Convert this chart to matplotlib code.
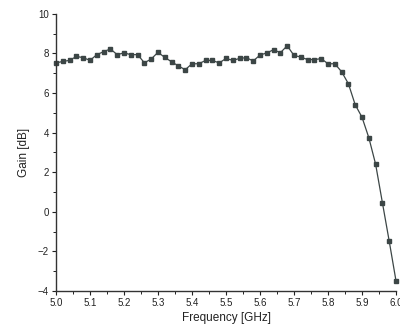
import numpy as np
import matplotlib
matplotlib.use("Agg")
import matplotlib.pyplot as plt
from matplotlib.ticker import MultipleLocator

plt.rcParams['font.family'] = ['Liberation Sans', 'DejaVu Sans']

# frequency points, 0.02 GHz step
freq = [5.00, 5.02, 5.04, 5.06, 5.08, 5.10, 5.12, 5.14, 5.16, 5.18,
        5.20, 5.22, 5.24, 5.26, 5.28, 5.30, 5.32, 5.34, 5.36, 5.38,
        5.40, 5.42, 5.44, 5.46, 5.48, 5.50, 5.52, 5.54, 5.56, 5.58,
        5.60, 5.62, 5.64, 5.66, 5.68, 5.70, 5.72, 5.74, 5.76, 5.78,
        5.80, 5.82, 5.84, 5.86, 5.88, 5.90, 5.92, 5.94, 5.96, 5.98, 6.00]
gain = [7.52, 7.60, 7.65, 7.85, 7.79, 7.65, 7.94, 8.09, 8.23, 7.94,
        8.03, 7.94, 7.94, 7.53, 7.72, 8.06, 7.80, 7.58, 7.37, 7.18,
        7.48, 7.48, 7.65, 7.65, 7.52, 7.75, 7.65, 7.75, 7.79, 7.62,
        7.92, 8.03, 8.19, 8.04, 8.39, 7.90, 7.82, 7.69, 7.69, 7.74,
        7.48, 7.48, 7.08, 6.47, 5.41, 4.78, 3.75, 2.41, 0.46, -1.48, -3.49]

fig = plt.figure(figsize=(4.0, 3.31), dpi=100)
ax = fig.add_axes([0.14, 0.121, 0.85, 0.837])

col = "#3c4646"
ax.plot(freq, gain, color=col, lw=0.9, marker="s", ms=2.6,
        mfc=col, mec=col, clip_on=False)

ax.set_xlim(5.0, 6.0)
ax.set_ylim(-4, 10)
ax.xaxis.set_major_locator(MultipleLocator(0.1))
ax.xaxis.set_minor_locator(MultipleLocator(0.05))
ax.yaxis.set_major_locator(MultipleLocator(2))
ax.yaxis.set_minor_locator(MultipleLocator(1))
ax.set_xticklabels([f"{v:.1f}" for v in ax.get_xticks()])

for s in ["top", "right"]:
    ax.spines[s].set_visible(False)
for s in ["left", "bottom"]:
    ax.spines[s].set_linewidth(1.0)
    ax.spines[s].set_color("#333333")

ax.tick_params(which="major", direction="out", length=3, width=0.8,
               labelsize=7, colors="#222222", pad=2)
ax.tick_params(which="minor", direction="out", length=2, width=0.7,
               colors="#222222")

ax.set_xlabel("Frequency [GHz]", fontsize=8.5, color="#222222", labelpad=3)
ax.set_ylabel("Gain [dB]", fontsize=8.5, color="#222222", labelpad=6)

fig.savefig("out.png", dpi=100)
